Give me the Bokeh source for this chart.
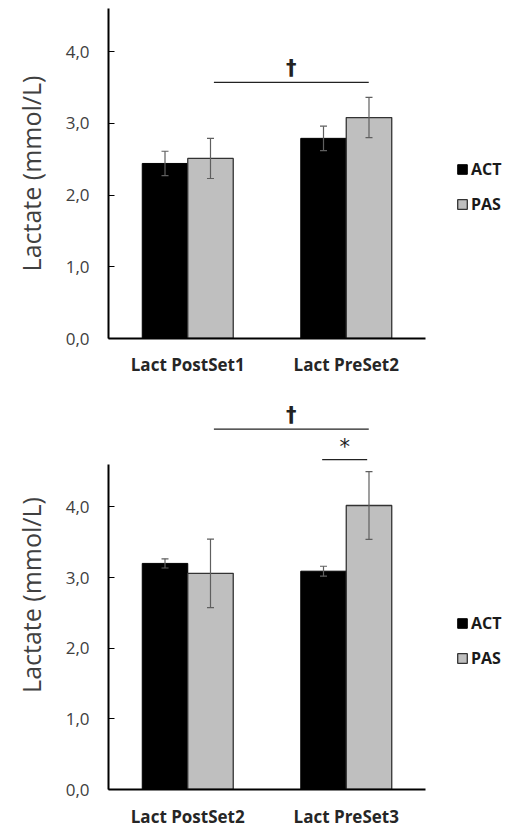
from bokeh.plotting import figure
from bokeh.models import (ColumnDataSource, FactorRange, Range1d, FixedTicker,
                          Whisker, TeeHead, Legend, LegendItem)
from bokeh.transform import dodge
from bokeh.layouts import column
from bokeh.embed import file_html
from bokeh.resources import INLINE
from bokeh.core.properties import value

# ---------------- data ----------------
series = ["ACT", "PAS"]

cats_top = ["Lact PostSet1", "Lact PreSet2"]
act_top = [2.44, 2.79]
act_top_err = [0.17, 0.17]
pas_top = [2.51, 3.08]
pas_top_err = [0.28, 0.28]

cats_bot = ["Lact PostSet2", "Lact PreSet3"]
act_bot = [3.20, 3.09]
act_bot_err = [0.065, 0.07]
pas_bot = [3.06, 4.02]
pas_bot_err = [0.485, 0.48]

y_ticks = [0, 1, 2, 3, 4]
y_tick_labels = ["0,0", "1,0", "2,0", "3,0", "4,0"]

# significance markers: start category, end category, level, symbol
sig_top_start = ["Lact PostSet1"]
sig_top_end = ["Lact PreSet2"]
sig_top_level = [3.57]
sig_top_symbol = ["†"]

sig_bot_start = ["Lact PostSet2", "Lact PreSet3"]
sig_bot_end = ["Lact PreSet3", "Lact PreSet3"]
sig_bot_level = [5.10, 4.67]
sig_bot_symbol = ["†", "*"]

# ---------------- style ----------------
FONT = "Open Sans"
BAR_W = 0.287
OFF = 0.1435
GRAY = "#bfbfbf"
TXT = "#404040"


def make_chart(cats, act, act_err, pas, pas_err, y_end, frame_h, top_b, bot_b,
               label_standoff, s_start, s_end, s_level, s_symbol, sig_offsets,
               legend_y):
    p = figure(x_range=FactorRange(*cats, range_padding=0),
               y_range=Range1d(0, y_end),
               frame_width=317, frame_height=frame_h,
               min_border_left=108, min_border_right=82,
               min_border_top=top_b, min_border_bottom=bot_b,
               output_backend="svg", toolbar_location=None,
               background_fill_color="white", border_fill_color="white")
    p.outline_line_color = None
    p.grid.visible = False

    lo_a = [v - e for v, e in zip(act, act_err)]
    hi_a = [v + e for v, e in zip(act, act_err)]
    lo_p = [v - e for v, e in zip(pas, pas_err)]
    hi_p = [v + e for v, e in zip(pas, pas_err)]
    src = ColumnDataSource(dict(cat=cats, act=act, pas=pas,
                                lo_a=lo_a, hi_a=hi_a, lo_p=lo_p, hi_p=hi_p))

    r_act = p.vbar(x=dodge("cat", -OFF, range=p.x_range), top="act", width=BAR_W,
                   source=src, fill_color="black", line_color="black", line_width=1)
    r_pas = p.vbar(x=dodge("cat", OFF, range=p.x_range), top="pas", width=BAR_W,
                   source=src, fill_color=GRAY, line_color="#333333", line_width=1.3)

    for lo, hi, off in (("lo_a", "hi_a", -OFF), ("lo_p", "hi_p", OFF)):
        w = Whisker(source=src, base=dodge("cat", off, range=p.x_range),
                    lower=lo, upper=hi, line_color="#5f5f5f", line_width=1.2,
                    level="annotation",
                    upper_head=TeeHead(size=7, line_color="#5f5f5f", line_width=1.2),
                    lower_head=TeeHead(size=7, line_color="#5f5f5f", line_width=1.2))
        p.add_layout(w)

    # significance lines and symbols
    for (a, b), st, en, lv, sym in zip(sig_offsets, s_start, s_end, s_level, s_symbol):
        ssrc = ColumnDataSource(dict(x0=[st], x1=[en], y=[lv]))
        p.segment(x0=dodge("x0", a, range=p.x_range), x1=dodge("x1", b, range=p.x_range),
                  y0="y", y1="y", source=ssrc, line_color="#222222", line_width=1.3)
        mid = ColumnDataSource(dict(x=[st], y=[lv], t=[sym]))
        idx0 = cats.index(st)
        idx1 = cats.index(en)
        mid_off = ((idx0 + a) + (idx1 + b)) / 2 - idx0
        if sym == "*":
            p.text(x=dodge("x", mid_off, range=p.x_range), y="y", text="t", source=mid,
                   text_align="center", text_baseline="bottom", y_offset=-1,
                   text_font=value("DejaVu Sans"), text_font_size="21px",
                   text_color="#222222")
        else:
            p.text(x=dodge("x", mid_off, range=p.x_range), y="y", text="t", source=mid,
                   text_align="center", text_baseline="bottom", y_offset=-2,
                   text_font=value("DejaVu Sans"), text_font_size="21px",
                   text_font_style="bold", text_color="#222222")

    # axes
    yax = p.yaxis[0]
    yax.ticker = FixedTicker(ticks=y_ticks)
    yax.major_label_overrides = {t: l for t, l in zip(y_ticks, y_tick_labels)}
    yax.bounds = (0, 4.6)
    yax.axis_line_color = "black"
    yax.axis_line_width = 2
    yax.major_tick_in = 6
    yax.major_tick_out = 0
    yax.major_tick_line_color = "black"
    yax.minor_tick_line_color = None
    yax.major_label_text_font = FONT
    yax.major_label_text_font_size = "17px"
    yax.major_label_text_color = TXT
    yax.major_label_standoff = 19
    yax.axis_label = "Lactate (mmol/L)"
    yax.axis_label_text_font = FONT
    yax.axis_label_text_font_size = "25px"
    yax.axis_label_text_font_style = "normal"
    yax.axis_label_text_color = TXT
    yax.axis_label_standoff = 15

    xax = p.xaxis[0]
    xax.axis_line_color = "black"
    xax.axis_line_width = 2
    xax.major_tick_line_color = None
    xax.minor_tick_line_color = None
    xax.major_label_text_font = FONT
    xax.major_label_text_font_size = "17px"
    xax.major_label_text_font_style = "bold"
    xax.major_label_text_color = "#262626"
    xax.major_label_standoff = label_standoff

    legend = Legend(items=[LegendItem(label=series[0], renderers=[r_act]),
                           LegendItem(label=series[1], renderers=[r_pas])],
                    location=(31, legend_y), orientation="vertical",
                    glyph_width=12, glyph_height=12, label_height=12,
                    label_standoff=3, spacing=13, padding=0, margin=0,
                    border_line_color=None, background_fill_alpha=0,
                    label_text_font=FONT, label_text_font_style="bold",
                    label_text_font_size="16px", label_text_color="#1a1a1a")
    p.add_layout(legend, "right")
    return p


p1 = make_chart(cats_top, act_top, act_top_err, pas_top, pas_top_err,
                4.6, 330, 8, 60, 8,
                sig_top_start, sig_top_end, sig_top_level, sig_top_symbol,
                [(0.165, 0.142)], 123)
p2 = make_chart(cats_bot, act_bot, act_bot_err, pas_bot, pas_bot_err,
                5.506, 389, 2, 38, 9,
                sig_bot_start, sig_bot_end, sig_bot_level, sig_bot_symbol,
                [(0.165, 0.142), (-0.152, 0.132)], 120)

layout = column(p1, p2, spacing=0)
open("out.html", "w").write(file_html(layout, INLINE))
